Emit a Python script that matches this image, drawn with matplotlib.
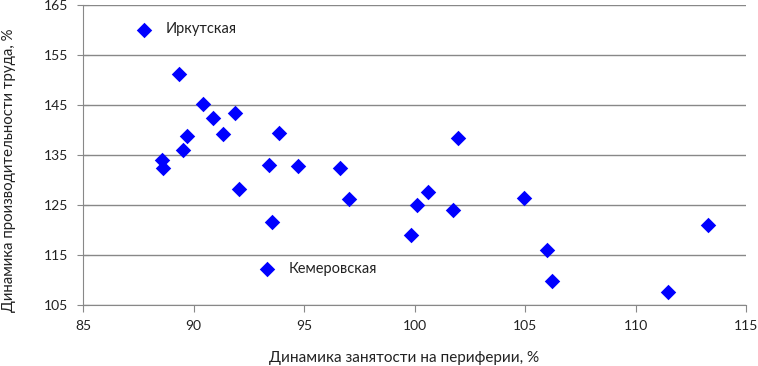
import numpy as np
import matplotlib.pyplot as plt

plt.rcParams['font.family'] = ['Lato', 'DejaVu Sans']

# employment dynamics on periphery, % (x) vs labour productivity dynamics, % (y)
emp = [89.36, 90.44, 90.9, 91.88, 91.33, 89.72, 93.88, 89.51, 88.57, 88.6,
       93.4, 94.71, 96.61, 92.04, 93.53, 97.05, 100.61, 100.13, 101.76, 99.86,
       104.97, 105.98, 106.2, 111.49, 113.3, 101.95]
prod = [151.3, 145.3, 142.5, 143.5, 139.3, 138.9, 139.5, 136.0, 134.1, 132.5,
        133.0, 132.9, 132.5, 128.3, 121.7, 126.2, 127.6, 125.1, 124.1, 119.0,
        126.5, 116.1, 109.9, 107.7, 121.0, 138.4]

# labelled regions
lab_names = ['Иркутская', 'Кемеровская']
lab_x = [87.75, 93.32]
lab_y = [160.1, 112.2]

xticks = [85, 90, 95, 100, 105, 110, 115]
yticks = [105, 115, 125, 135, 145, 155, 165]

fig = plt.figure(figsize=(7.58, 3.66), dpi=100)
ax = fig.add_axes([83/758, 1 - 305/366, 663/758, 300/366])

ax.scatter(emp, prod, marker='D', s=62, color='#0000FF', zorder=3, linewidths=0)
ax.scatter(lab_x, lab_y, marker='D', s=62, color='#0000FF', zorder=3, linewidths=0)
for nm, x, y in zip(lab_names, lab_x, lab_y):
    ax.text(x + 1.0, y, nm, fontsize=10.5, va='center', ha='left', color='#222222')

ax.set_xlim(85, 115)
ax.set_ylim(105, 165)
ax.set_xticks(xticks)
ax.set_yticks(yticks)
ax.grid(axis='y', color='#888888', linewidth=1)
ax.set_axisbelow(True)
for s in ['top', 'right']:
    ax.spines[s].set_visible(False)
for s in ['left', 'bottom']:
    ax.spines[s].set_color('#888888')
ax.tick_params(colors='#888888', labelcolor='#222222', labelsize=10)
ax.tick_params(axis='y', direction='inout', length=9, pad=6)
ax.tick_params(axis='x', direction='out', length=5, pad=6)

fig.text(404/758, 1 - 358/366, 'Динамика занятости на периферии, %', ha='center', va='center',
         fontsize=11, color='#222222')
fig.text(9/758, 1 - 170/366, 'Динамика производительности труда, %', ha='center', va='center',
         rotation=90, fontsize=10.8, color='#222222')

fig.savefig('out.png', dpi=100)
